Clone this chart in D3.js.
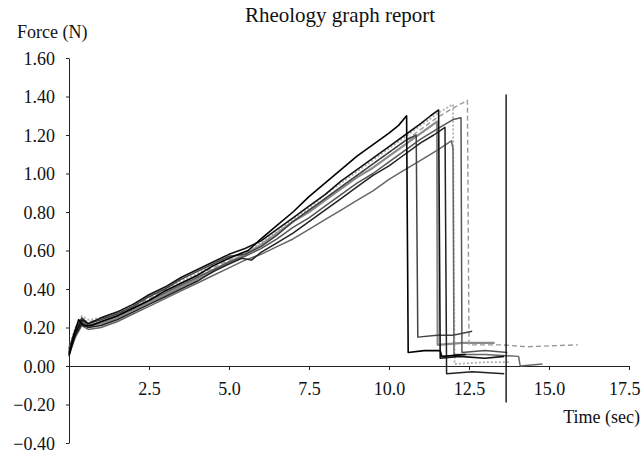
<!DOCTYPE html>
<html lang="en">
<head>
    <meta charset="UTF-8">
    <title>Rheology graph report</title>
    <script src="https://d3js.org/d3.v7.min.js"></script>
    <style>
        body { margin: 0; background: #fff; }
        svg text { font-family: "Liberation Serif", "Times New Roman", serif; fill: #111; }
        .axis path, .axis line { stroke: #222; stroke-width: 1px; }
        .run { fill: none; stroke-linejoin: round; }
    </style>
</head>
<body>
    <svg width="642" height="459"></svg>

    <script>
        // tick values and labels
        const xTicks = [2.5, 5.0, 7.5, 10.0, 12.5, 15.0, 17.5];
        const yTicks = [-0.40, -0.20, 0.00, 0.20, 0.40, 0.60, 0.80, 1.00, 1.20, 1.40, 1.60];

        // each run: [time (s), force (N)]
        const run1 = [[0,0.06],[0.15,0.16],[0.3,0.24],[0.45,0.21],[0.7,0.21],[1,0.23],[1.5,0.26],[2,0.30],[2.5,0.34],[3,0.39],[3.5,0.43],[4,0.47],[4.5,0.52],[5,0.56],[5.3,0.58],[5.6,0.60],[6,0.66],[6.5,0.73],[7,0.80],[7.5,0.88],[8,0.95],[8.5,1.02],[9,1.09],[9.5,1.15],[10,1.21],[10.3,1.25],[10.55,1.30],[10.6,0.07],[11.1,0.08],[11.6,0.08],[11.65,0.05],[12.4,0.06]];
        const run2 = [[0,0.09],[0.2,0.19],[0.4,0.25],[0.6,0.22],[1,0.24],[1.5,0.27],[2,0.31],[2.5,0.36],[3,0.40],[3.5,0.45],[4,0.49],[4.5,0.53],[5,0.57],[5.5,0.58],[6,0.62],[6.5,0.68],[7,0.75],[7.5,0.81],[8,0.87],[8.5,0.93],[9,0.99],[9.5,1.05],[10,1.11],[10.5,1.17],[10.85,1.20],[10.9,0.15],[11.5,0.16],[12,0.16],[12.6,0.18]];
        const run3 = [[0,0.05],[0.2,0.17],[0.4,0.24],[0.6,0.22],[1,0.25],[1.5,0.28],[2,0.32],[2.5,0.37],[3,0.41],[3.5,0.46],[4,0.50],[4.5,0.54],[5,0.58],[5.5,0.61],[6,0.65],[6.5,0.71],[7,0.77],[7.5,0.83],[8,0.89],[8.5,0.96],[9,1.02],[9.5,1.08],[10,1.14],[10.5,1.20],[11,1.26],[11.3,1.30],[11.55,1.33],[11.6,0.04],[12.2,0.05],[13,0.04],[13.6,0.05]];
        const run4 = [[0,0.08],[0.2,0.18],[0.4,0.23],[0.6,0.21],[1,0.22],[1.5,0.25],[2,0.29],[2.5,0.33],[3,0.37],[3.5,0.41],[4,0.45],[4.5,0.49],[5,0.54],[5.5,0.58],[6,0.63],[6.5,0.69],[7,0.75],[7.5,0.80],[8,0.86],[8.5,0.92],[9,0.98],[9.5,1.03],[10,1.09],[10.5,1.15],[11,1.21],[11.5,1.27],[11.52,0.11],[12.3,0.12],[13.3,0.12]];
        const run5 = [[0,0.07],[0.2,0.16],[0.4,0.22],[0.6,0.20],[1,0.21],[1.5,0.24],[2,0.28],[2.5,0.32],[3,0.36],[3.5,0.40],[4,0.44],[4.5,0.49],[5,0.53],[5.4,0.56],[5.7,0.55],[6,0.59],[6.5,0.64],[7,0.69],[7.5,0.75],[8,0.81],[8.5,0.87],[9,0.93],[9.5,0.99],[10,1.04],[10.5,1.10],[11,1.16],[11.4,1.20],[11.75,1.24],[11.8,-0.04],[12.6,-0.03],[13.6,-0.04]];
        const run6 = [[0,0.10],[0.2,0.20],[0.4,0.26],[0.6,0.24],[1,0.25],[1.5,0.28],[2,0.32],[2.5,0.36],[3,0.40],[3.5,0.44],[4,0.48],[4.5,0.52],[5,0.56],[5.5,0.59],[6,0.64],[6.5,0.70],[7,0.76],[7.5,0.82],[8,0.89],[8.5,0.95],[9,1.01],[9.5,1.07],[10,1.13],[10.5,1.19],[11,1.25],[11.5,1.31],[12,1.36],[12.05,0.01],[13,0.02],[13.8,0.02]];
        const run7 = [[0,0.06],[0.2,0.15],[0.4,0.21],[0.6,0.19],[1,0.20],[1.5,0.23],[2,0.27],[2.5,0.31],[3,0.35],[3.5,0.39],[4,0.43],[4.5,0.47],[5,0.51],[5.5,0.55],[6,0.58],[6.5,0.62],[7,0.66],[7.5,0.71],[8,0.76],[8.5,0.81],[9,0.86],[9.5,0.91],[10,0.97],[10.5,1.02],[11,1.07],[11.5,1.12],[11.95,1.17],[12.0,1.13],[12.03,0.06],[13,0.06],[14.05,0.05],[14.1,0.0],[14.8,0.01]];
        const run8 = [[0,0.09],[0.2,0.19],[0.4,0.24],[0.6,0.23],[1,0.24],[1.5,0.27],[2,0.31],[2.5,0.35],[3,0.39],[3.5,0.43],[4,0.47],[4.5,0.51],[5,0.55],[5.5,0.58],[6,0.63],[6.5,0.69],[7,0.75],[7.5,0.81],[8,0.87],[8.5,0.93],[9,0.99],[9.5,1.05],[10,1.11],[10.5,1.17],[11,1.23],[11.5,1.29],[12,1.34],[12.45,1.38],[12.5,0.11],[13.5,0.11],[14.3,0.10],[15.9,0.11]];
        const run9 = [[0,0.07],[0.2,0.17],[0.4,0.23],[0.6,0.21],[1,0.23],[1.5,0.26],[2,0.30],[2.5,0.34],[3,0.38],[3.5,0.42],[4,0.46],[4.5,0.50],[5,0.54],[5.5,0.57],[6,0.61],[6.5,0.66],[7,0.72],[7.5,0.77],[8,0.83],[8.5,0.89],[9,0.95],[9.5,1.00],[10,1.06],[10.5,1.12],[11,1.18],[11.5,1.23],[12.0,1.28],[12.25,1.29],[12.28,0.07],[13.0,0.08],[13.7,0.07]];
        const marker = [[13.66,-0.19],[13.66,1.41]];

        const runs = [
            { data: run4, color: "#8a8a8a", width: 2.2, dash: null },
            { data: run6, color: "#b0b0b0", width: 1.8, dash: "2,2" },
            { data: run8, color: "#999", width: 1.4, dash: "5,3" },
            { data: run7, color: "#666", width: 1.5, dash: null },
            { data: run9, color: "#555", width: 1.5, dash: null },
            { data: run2, color: "#444", width: 1.5, dash: null },
            { data: run5, color: "#222", width: 1.5, dash: null },
            { data: run3, color: "#111", width: 1.6, dash: null },
            { data: run1, color: "#000", width: 1.6, dash: null },
            { data: marker, color: "#000", width: 1.3, dash: null }
        ];

        const svg = d3.select("svg");

        const x = d3.scaleLinear().domain([0, 17.5]).range([69, 629]);
        const y = d3.scaleLinear().domain([-0.40, 1.60]).range([443, 58]);

        // title and axis names
        svg.append("text").attr("x", 340).attr("y", 22)
            .attr("text-anchor", "middle").style("font-size", "21px")
            .text("Rheology graph report");
        svg.append("text").attr("x", 17).attr("y", 38)
            .style("font-size", "18px").text("Force (N)");
        svg.append("text").attr("x", 640).attr("y", 423)
            .attr("text-anchor", "end").style("font-size", "18px")
            .text("Time (sec)");

        // y axis
        const yAxis = d3.axisLeft(y)
            .tickValues(yTicks)
            .tickSize(3)
            .tickSizeOuter(0)
            .tickFormat(d => (d < 0 ? "\u2212" : "") + Math.abs(d).toFixed(2));
        const gy = svg.append("g").attr("class", "axis")
            .attr("transform", `translate(${x(0)},0)`)
            .call(yAxis);
        gy.selectAll("text").style("font-size", "18px").attr("x", -14).attr("dy", "0.35em");

        // x axis along zero force
        const xAxis = d3.axisBottom(x)
            .tickValues(xTicks)
            .tickSize(4)
            .tickSizeOuter(0)
            .tickFormat(d3.format(".1f"));
        const gx = svg.append("g").attr("class", "axis")
            .attr("transform", `translate(0,${y(0)})`)
            .call(xAxis);
        gx.selectAll("text").style("font-size", "18px").attr("y", 16).attr("dy", "0.71em");
        // last label sits against the right edge
        gx.selectAll(".tick").filter(d => d === 17.5).select("text")
            .attr("text-anchor", "end").attr("x", 11);

        // runs
        const line = d3.line().x(d => x(d[0])).y(d => y(d[1]));
        svg.append("g").selectAll("path")
            .data(runs)
            .join("path")
            .attr("class", "run")
            .attr("d", d => line(d.data))
            .attr("stroke", d => d.color)
            .attr("stroke-width", d => d.width)
            .attr("stroke-dasharray", d => d.dash);
    </script>
</body>
</html>
